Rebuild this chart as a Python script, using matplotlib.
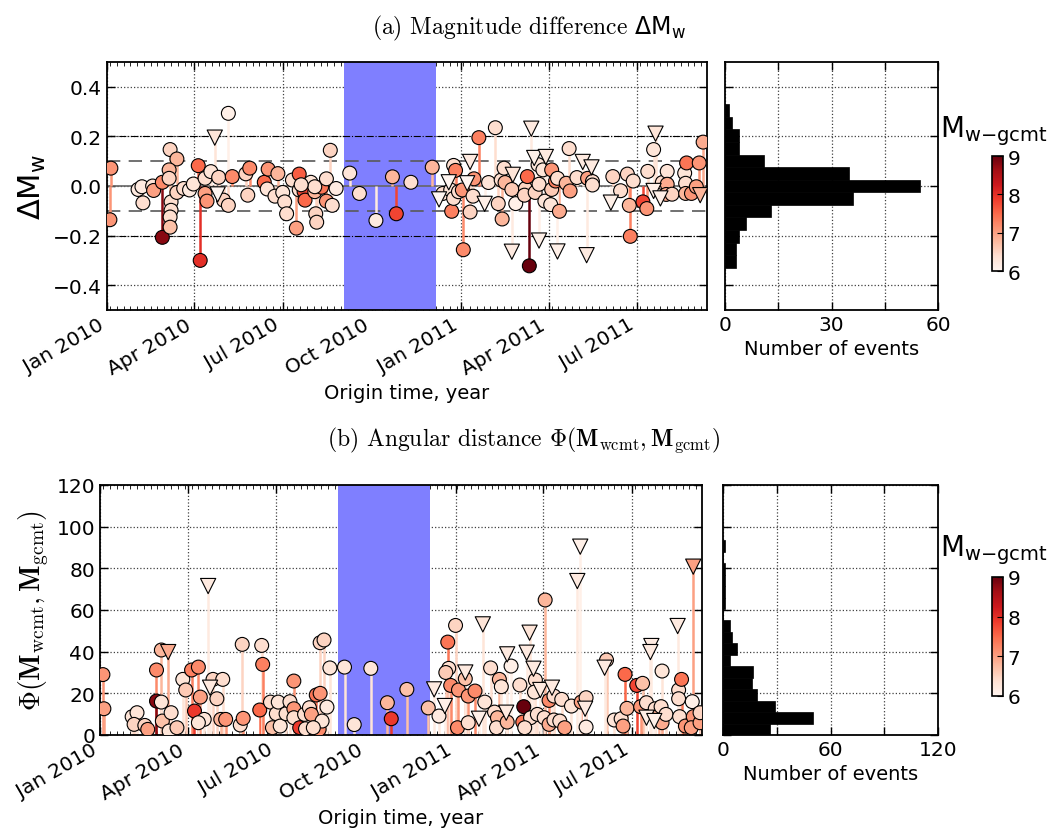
import numpy as np
import matplotlib.pyplot as plt
import matplotlib.dates as mdates
from matplotlib.colors import Normalize
from matplotlib.cm import ScalarMappable

plt.rcParams['font.size'] = 14

t0 = np.datetime64('2010-01-01')
t_end = 618          # days after t0 at the right edge
gap = (244, 339)     # shaded period, days after t0

# (a) magnitude difference, circles: day after t0, dMw, Mw(gcmt)
dmw_day = [4, 3, 32, 36, 37, 47, 48, 57, 57, 65, 72, 64, 64, 66, 66, 65, 65, 72, 79, 85,
           89, 94, 96, 101, 101, 103, 107, 115, 120, 125, 125, 129, 143, 147, 145, 162, 166, 165, 173, 176,
           181, 183, 185, 191, 195, 198, 198, 203, 204, 210, 215, 216, 214, 221, 226, 230, 226, 232, 236, 214,
           200, 250, 260, 277, 294, 298, 313, 335, 346, 354, 357, 359, 355, 357, 362, 366, 367, 374, 377, 378,
           383, 393, 400, 403, 406, 409, 410, 407, 417, 421, 431, 433, 435, 444, 430, 441, 449, 458, 445, 451,
           457, 458, 462, 464, 466, 473, 476, 477, 484, 495, 500, 500, 521, 529, 536, 538, 539, 542, 552, 556,
           557, 563, 572, 577, 577, 576, 582, 595, 596, 597, 596, 602, 607, 610, 614]
dmw_val = [0.072, -0.136, -0.014, -0.003, -0.068, 0.0, -0.018, 0.015, -0.207, 0.147, 0.109, 0.065, 0.031, -0.064, -0.098, -0.125, -0.166, -0.026, -0.01, -0.016,
           0.008, 0.082, -0.3, 0.031, -0.03, -0.061, 0.058, 0.035, -0.057, 0.293, -0.078, 0.038, 0.049, 0.072, -0.037, 0.015, 0.068, -0.012, -0.041, 0.05,
           -0.026, -0.064, -0.112, 0.024, -0.17, 0.048, -0.016, -0.023, -0.057, 0.015, -0.112, -0.146, -0.023, -0.005, 0.029, 0.144, -0.061, -0.078, -0.01, -0.003,
           0.005, 0.052, -0.03, -0.139, 0.037, -0.112, 0.015, 0.076, -0.03, -0.016, 0.083, 0.063, -0.102, -0.05, -0.023, -0.016, -0.257, -0.105, -0.041, 0.029,
           0.195, 0.014, 0.235, -0.071, 0.024, 0.072, 0.014, -0.133, -0.014, -0.071, -0.01, 0.038, -0.322, 0.086, -0.037, -0.026, 0.065, 0.065, 0.007, -0.061,
           -0.075, -0.014, 0.02, 0.031, -0.102, 0.011, 0.151, -0.02, 0.034, 0.031, 0.018, 0.004, 0.038, -0.019, 0.048, -0.078, -0.203, 0.02, -0.064, -0.091,
           0.059, 0.147, 0.014, 0.059, 0.007, -0.034, -0.033, 0.052, 0.011, 0.093, -0.03, -0.03, -0.003, 0.093, 0.177]
dmw_mag = [7.1, 7.1, 6.2, 6.2, 6.4, 6.3, 7.0, 7.2, 8.8, 6.5, 6.8, 6.8, 6.5, 6.4, 6.4, 6.4, 6.7, 6.5, 6.4, 6.2,
           6.3, 7.5, 8.0, 6.4, 7.0, 7.1, 6.3, 6.5, 6.5, 6.1, 6.5, 7.2, 6.5, 7.2, 6.5, 7.5, 7.1, 6.3, 6.4, 6.8,
           6.3, 6.4, 6.4, 6.4, 7.0, 7.6, 6.4, 7.8, 7.5, 6.3, 6.5, 6.5, 6.8, 7.4, 6.4, 6.5, 7.1, 6.4, 6.2, 6.4,
           6.4, 6.3, 6.4, 6.2, 6.8, 7.8, 6.4, 6.8, 6.4, 6.3, 6.4, 7.3, 7.3, 6.4, 6.4, 7.1, 7.2, 6.5, 6.4, 7.1,
           7.3, 6.3, 6.4, 6.5, 6.4, 6.4, 6.8, 6.8, 6.6, 6.1, 6.5, 7.5, 9.0, 6.3, 6.5, 6.5, 6.3, 7.1, 6.4, 6.3,
           6.3, 6.6, 7.3, 6.4, 6.9, 6.8, 6.4, 7.0, 6.4, 7.0, 6.4, 6.4, 6.5, 6.4, 6.5, 6.8, 7.3, 6.4, 7.8, 7.1,
           6.4, 6.3, 6.4, 6.3, 6.9, 6.9, 6.5, 6.3, 6.4, 7.4, 6.8, 7.1, 7.0, 7.1, 6.9]
# (a) triangles
dmw_tri_day = [111, 114, 342, 352, 371, 374, 389, 417, 418, 437, 440, 445,
               452, 464, 490, 494, 499, 519, 563, 565, 570, 611]
dmw_tri_val = [0.195, -0.034, -0.054, 0.015, 0.011, 0.097, -0.072, -0.265, 0.045, 0.231, 0.113, -0.22,
               0.117, -0.264, 0.097, -0.279, 0.075, -0.067, -0.02, 0.211, -0.05, -0.037]
dmw_tri_mag = [6.3, 6.0, 6.0, 6.0, 6.0, 6.2, 6.1, 6.2, 6.3, 6.2, 6.1, 6.1,
               6.2, 6.1, 6.2, 6.2, 6.2, 6.1, 6.1, 6.3, 6.1, 6.8]

# (b) angular distance, circles
phi_day = [3, 4, 33, 38, 35, 46, 49, 58, 58, 63, 63, 64, 73, 71, 79, 85, 88, 94, 101, 97,
           103, 107, 101, 116, 120, 126, 124, 129, 144, 146, 147, 164, 166, 167, 175, 177, 181, 183, 185, 191,
           195, 199, 199, 199, 205, 210, 215, 217, 222, 226, 225, 226, 230, 228, 233, 236, 211, 219, 251, 261,
           278, 295, 299, 315, 337, 348, 357, 358, 355, 360, 365, 367, 368, 375, 378, 378, 385, 395, 401, 405,
           408, 410, 407, 412, 418, 422, 431, 435, 434, 447, 446, 442, 436, 457, 461, 466, 449, 456, 461, 466,
           474, 472, 477, 484, 494, 499, 499, 520, 528, 535, 537, 539, 541, 551, 557, 555, 561, 570, 574, 576,
           577, 577, 581, 594, 594, 597, 595, 601, 608, 609, 607, 616, 616]
phi_val = [29, 12.6, 8.8, 10.7, 5.1, 4.6, 2.7, 31.2, 16.3, 40.8, 15.8, 6.7, 10.7, 1.9, 3.5, 26.7, 21.6, 31.2, 32.6, 11.5,
           18.2, 7.5, 5.9, 26.7, 17.4, 26.7, 7.5, 7.5, 4.8, 43.5, 8.0, 12.0, 43, 33.9, 15.8, 3.5, 10.2, 15.8, 4.3, 10.2,
           16, 25.9, 12.6, 8.3, 3.5, 9.9, 13.1, 9.9, 19.2, 20, 2.7, 44.3, 45.6, 6.7, 13.4, 32.2, 3, 3.5, 32.6, 5,
           32, 15.5, 7.8, 21.9, 13, 9.1, 44.6, 32, 30, 23.8, 52.6, 3.5, 21.6, 27, 18.7, 5.9, 21.1, 15.8, 32.2, 11,
           8.3, 26.7, 3.5, 23.2, 6.2, 33.1, 24, 13.6, 6.2, 26.4, 20.6, 8.3, 3.5, 64.8, 16.6, 18.7, 9.9, 8.3, 5.1, 7.2,
           17.1, 6.7, 3.5, 13.9, 15.8, 17.9, 3.8, 36, 7.2, 7.8, 4.3, 29.1, 12.8, 23.8, 24.8, 13.6, 15.5, 12.6, 9.4, 13.6,
           30.7, 5.9, 9.9, 21.6, 17.4, 26.7, 8.8, 4.3, 16, 8.8, 3.5, 5.9, 10.7]
phi_mag = [7.1, 7.0, 6.3, 6.3, 6.5, 6.5, 7.0, 7.2, 8.8, 6.8, 6.3, 6.7, 6.4, 6.3, 6.6, 6.3, 6.6, 7.3, 7.2, 7.9,
           7.0, 6.3, 6.3, 6.5, 6.5, 6.4, 6.8, 7.1, 6.4, 6.5, 7.1, 7.5, 6.4, 7.3, 6.4, 6.7, 6.4, 6.3, 6.3, 6.4,
           6.4, 7.1, 7.1, 6.4, 7.9, 6.4, 6.4, 7.0, 7.4, 7.1, 7.2, 6.5, 6.5, 6.3, 6.2, 6.3, 6.4, 6.4, 6.3, 6.3,
           6.3, 6.8, 7.9, 6.7, 6.7, 6.2, 7.4, 6.4, 6.6, 7.2, 6.5, 7.2, 7.1, 6.7, 7.1, 6.4, 7.2, 6.3, 6.4, 6.4,
           6.8, 6.8, 6.4, 6.3, 6.8, 6.1, 6.4, 9.0, 7.4, 6.4, 6.3, 6.4, 6.4, 6.8, 7.2, 6.4, 6.4, 6.4, 6.9, 6.4,
           6.4, 6.4, 7.0, 6.3, 7.0, 6.5, 6.2, 6.6, 6.3, 6.4, 7.0, 7.5, 6.8, 7.8, 6.7, 7.1, 6.4, 6.4, 6.9, 6.4,
           6.3, 6.9, 6.4, 6.4, 6.4, 7.4, 6.4, 7.1, 6.1, 7.1, 7.0, 7.0, 6.5]
# (b) triangles
phi_tri_day = [70, 111, 113, 343, 354, 375, 389, 393, 417, 418, 441, 438, 445,
               452, 464, 490, 493, 498, 518, 561, 566, 565, 569, 593, 609]
phi_tri_val = [39.8, 71.5, 22.7, 21.9, 13.9, 30, 7.8, 53.1, 10.7, 38.7, 49.1, 39.5, 31.8,
               21.6, 22.7, 73.9, 90.4, 12.6, 32.3, 8.3, 42.7, 39.8, 6.7, 52.3, 80.8]
phi_tri_mag = [6.9, 6.2, 6.2, 6.2, 6.1, 6.2, 6.1, 6.3, 6.2, 6.2, 6.3, 6.2, 6.2,
               6.2, 6.2, 6.2, 6.1, 6.2, 6.2, 6.1, 6.2, 6.2, 6.1, 6.2, 7.0]

# histograms
dmw_bins = np.linspace(-0.33, 0.33, 14)
dmw_counts = [3, 3, 4, 6, 13, 36, 55, 35, 11, 4, 4, 2, 1]
phi_bins = np.linspace(0, 93.5, 18)
phi_counts = [26, 50, 29, 19, 16, 17, 4, 8, 5, 4, 0, 1, 1, 1, 1, 0, 1]

cmap = plt.get_cmap('Reds')
norm = Normalize(6, 9)
W, H = 1048, 829


def box(x0, y0, x1, y1):
    return [x0 / W, 1 - y1 / H, (x1 - x0) / W, (y1 - y0) / H]


def to_dates(days):
    return t0 + np.array(days).astype('timedelta64[D]')


def style(ax):
    for s in ax.spines.values():
        s.set_linewidth(1.3)
    ax.tick_params(direction='in', top=True, right=True, length=6, width=1, labelsize=14.5)
    ax.tick_params(which='minor', direction='in', top=True, right=True, length=3)
    ax.grid(True, ls=':', color='0.25', lw=0.9)
    ax.set_axisbelow(True)


def draw_events(ax, days, vals, mags, tdays, tvals, tmags):
    ax.axvspan(to_dates([gap[0]])[0], to_dates([gap[1]])[0], color='#7f7fff', lw=0, zorder=1)
    for dd, vv, mm in [(days, vals, mags), (tdays, tvals, tmags)]:
        ax.vlines(to_dates(dd), 0, vv, colors=cmap(norm(np.array(mm))), lw=1.8, zorder=2)
    ax.scatter(to_dates(days), vals, c=mags, cmap=cmap, norm=norm, s=100, marker='o',
               edgecolors='k', linewidths=0.8, zorder=3)
    ax.scatter(to_dates(tdays), tvals, c=tmags, cmap=cmap, norm=norm, s=120, marker='v',
               edgecolors='k', linewidths=0.8, zorder=3)
    ax.set_xlim(t0, to_dates([t_end])[0])
    ax.xaxis.set_major_locator(mdates.MonthLocator(bymonth=[1, 4, 7, 10]))
    ax.xaxis.set_minor_locator(mdates.DayLocator(interval=7))
    ax.xaxis.set_major_formatter(mdates.DateFormatter('%b %Y'))
    for lab in ax.get_xticklabels():
        lab.set_rotation(30)
        lab.set_ha('right')
    ax.set_xlabel('Origin time, year', fontsize=14)


def draw_hist(ax, bins, counts, xmax, ylim, yticks):
    ax.barh(bins[:-1], counts, height=np.diff(bins), align='edge', color='k', edgecolor='k', lw=0.5, zorder=3)
    ax.set_xlim(0, xmax)
    ax.set_ylim(*ylim)
    ax.set_yticks(yticks)
    ax.set_yticklabels([])
    ax.set_xticks(np.linspace(0, xmax, 5))
    ax.set_xticklabels(['0', '', str(xmax // 2), '', str(xmax)])
    ax.set_xlabel('Number of events', fontsize=14)


def draw_cbar(fig, rect, label_xy):
    cax = fig.add_axes(rect)
    cb = fig.colorbar(ScalarMappable(norm=norm, cmap=cmap), cax=cax, ticks=[6, 7, 8, 9])
    cb.outline.set_linewidth(1.2)
    cax.tick_params(labelsize=14.5, direction='in', length=4)
    fig.text(label_xy[0] / W, 1 - label_xy[1] / H, r'$\mathrm{M}_{\mathrm{w{-}gcmt}}$',
             fontsize=20, ha='center', va='center', math_fontfamily='dejavusans')


fig = plt.figure(figsize=(W / 100, H / 100), dpi=100)

# (a)
ax1 = fig.add_axes(box(107, 63, 707, 311))
style(ax1)
draw_events(ax1, dmw_day, dmw_val, dmw_mag, dmw_tri_day, dmw_tri_val, dmw_tri_mag)
ax1.axhline(0, color='0.4', lw=1.2, zorder=1.5)
for v in (-0.1, 0.1):
    ax1.axhline(v, color='0.35', lw=1.2, ls=(0, (8, 5)), zorder=1.5)
for v in (-0.2, 0.2):
    ax1.axhline(v, color='k', lw=0.8, ls='-.', zorder=1.5)
ax1.set_ylim(-0.5, 0.5)
ax1.set_yticks([-0.4, -0.2, 0.0, 0.2, 0.4])
ax1.set_ylabel(r'$\Delta \mathrm{M}_\mathrm{w}$', fontsize=22, math_fontfamily='dejavusans')

h1 = fig.add_axes(box(725, 63, 938, 311))
style(h1)
draw_hist(h1, dmw_bins, dmw_counts, 60, (-0.5, 0.5), [-0.4, -0.2, 0.0, 0.2, 0.4])
draw_cbar(fig, box(992, 157, 1003, 272), (994, 131))

# (b)
ax2 = fig.add_axes(box(100, 486, 702, 736))
style(ax2)
draw_events(ax2, phi_day, phi_val, phi_mag, phi_tri_day, phi_tri_val, phi_tri_mag)
ax2.set_ylim(0, 120)
ax2.set_yticks(np.arange(0, 121, 20))
ax2.set_ylabel(r'$\Phi(\mathbf{M}_{\rm wcmt},\mathbf{M}_{\rm gcmt})$', fontsize=20, math_fontfamily='cm')

h2 = fig.add_axes(box(723, 486, 938, 736))
style(h2)
draw_hist(h2, phi_bins, phi_counts, 120, (0, 120), np.arange(0, 121, 20))
draw_cbar(fig, box(992, 578, 1003, 697), (994, 550))

# titles
fig.text(0.505, 1 - 28 / H, r'(a) Magnitude difference $\Delta\mathrm{M}_\mathrm{w}$',
         fontsize=17, family='cmr10', ha='center', va='center', math_fontfamily='dejavusans')
fig.text(0.5, 1 - 440 / H, r'(b) Angular distance $\Phi(\mathbf{M}_{\rm wcmt},\mathbf{M}_{\rm gcmt})$',
         fontsize=17, family='cmr10', ha='center', va='center', math_fontfamily='cm')

fig.savefig('out.png', dpi=100)
